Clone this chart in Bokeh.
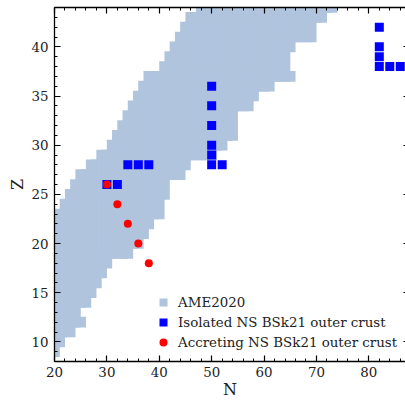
from bokeh.plotting import figure
from bokeh.models import (LinearAxis, SingleIntervalTicker, Range1d, Legend, LegendItem,
                          CustomJSTickFormatter)
from bokeh.embed import file_html
from bokeh.resources import INLINE

# AME2020 coverage: for each proton number Z, lowest / highest neutron number shown
ame_Z = [9, 10, 11, 12, 13, 14, 15, 16, 17, 18, 19, 20, 21, 22, 23, 24, 25, 26,
         27, 28, 29, 30, 31, 32, 33, 34, 35, 36, 37, 38, 39, 40, 41, 42, 43, 44]
ame_Nmin = [20, 20, 20, 20, 20, 20, 20, 20, 20, 20, 20, 20, 20, 20, 21, 22, 23, 24,
            25, 27, 29, 31, 32, 33, 34, 35, 36, 37, 38, 41, 42, 43, 44, 45, 46, 48]
ame_Nmax = [20, 21, 23, 25, 24, 26, 27, 28, 29, 30, 34, 36, 37, 38, 40, 40, 41, 41,
            44, 45, 50, 52, 54, 54, 54, 57, 58, 61, 65, 64, 64, 65, 69, 69, 71, 73]

# Isolated NS, BSk21 outer crust composition
iso_N = [30, 32, 34, 36, 38, 50, 50, 50, 50, 50, 50, 52, 82, 82, 82, 82, 84, 86]
iso_Z = [26, 26, 28, 28, 28, 36, 34, 32, 30, 29, 28, 28, 42, 40, 39, 38, 38, 38]

# Accreting NS, BSk21 outer crust composition
acc_N = [30, 32, 34, 36, 38]
acc_Z = [26, 24, 22, 20, 18]

labels = ["AME2020", "Isolated NS BSk21 outer crust", "Accreting NS BSk21 outer crust"]
x_title = "N"
y_title = "Z"

ame_N_pts, ame_Z_pts = [], []
for z, lo, hi in zip(ame_Z, ame_Nmin, ame_Nmax):
    for n in range(lo, hi + 1):
        ame_N_pts.append(n)
        ame_Z_pts.append(z)

FONT = "DejaVu Serif"

p = figure(width=405, height=401, output_backend="svg", toolbar_location=None,
           x_range=Range1d(20, 87), y_range=Range1d(8, 44),
           min_border_left=54, min_border_right=0, min_border_top=7, min_border_bottom=40)
p.xgrid.visible = False
p.ygrid.visible = False
p.outline_line_color = None

r1 = p.scatter(ame_N_pts, ame_Z_pts, marker="square", size=10.6,
               fill_color="#B0C4DE", line_color=None)
r2 = p.scatter(iso_N, iso_Z, marker="square", size=9, fill_color="#0000FF", line_color=None)
r3 = p.scatter(acc_N, acc_Z, marker="circle", size=8, fill_color="#FF0000", line_color=None)

def style(ax, show_labels):
    ax.axis_line_color = "black"
    ax.axis_line_width = 1.3
    ax.major_tick_in = 6
    ax.major_tick_out = 0
    ax.minor_tick_in = 3
    ax.minor_tick_out = 0
    ax.major_tick_line_color = "black"
    ax.minor_tick_line_color = "black"
    ax.major_tick_line_width = 1.2
    ax.minor_tick_line_width = 1
    if show_labels:
        ax.major_label_text_font = FONT
        ax.major_label_text_font_size = "13.4px"
        ax.major_label_text_color = "#222222"
        ax.axis_label_text_font = FONT
        ax.axis_label_text_font_size = "16px"
        ax.axis_label_text_font_style = "normal"
        ax.axis_label_text_color = "#222222"
    else:
        ax.formatter = CustomJSTickFormatter(code="return ''")
        ax.major_label_text_font_size = "0px"
        ax.major_label_standoff = 0

xt = SingleIntervalTicker(interval=10, num_minor_ticks=5)
yt = SingleIntervalTicker(interval=5, num_minor_ticks=5)

p.xaxis.ticker = xt
p.yaxis.ticker = yt
p.xaxis.axis_label = x_title
p.yaxis.axis_label = y_title
style(p.xaxis[0], True)
style(p.yaxis[0], True)
p.xaxis.major_label_standoff = 5
p.xaxis.axis_label_standoff = 0
p.yaxis.major_label_standoff = 6
p.yaxis.axis_label_standoff = 1

top = LinearAxis(ticker=xt)
right = LinearAxis(ticker=yt)
style(top, False)
style(right, False)
# the right spine sits just beyond the picture edge: only the tips of its major ticks show
right.axis_line_color = None
right.major_tick_in = 2
right.minor_tick_in = 0
p.add_layout(top, "above")
p.add_layout(right, "right")

legend = Legend(items=[LegendItem(label=labels[0], renderers=[r1]),
                       LegendItem(label=labels[1], renderers=[r2]),
                       LegendItem(label=labels[2], renderers=[r3])],
                location=(99, 9), padding=0, margin=0, spacing=0,
                border_line_alpha=0, background_fill_alpha=0,
                label_text_font=FONT, label_text_font_size="13.4px",
                label_text_color="#222222",
                glyph_width=20, glyph_height=20, label_height=20, label_standoff=5)
p.add_layout(legend)

open("out.html", "w").write(file_html(p, INLINE))
